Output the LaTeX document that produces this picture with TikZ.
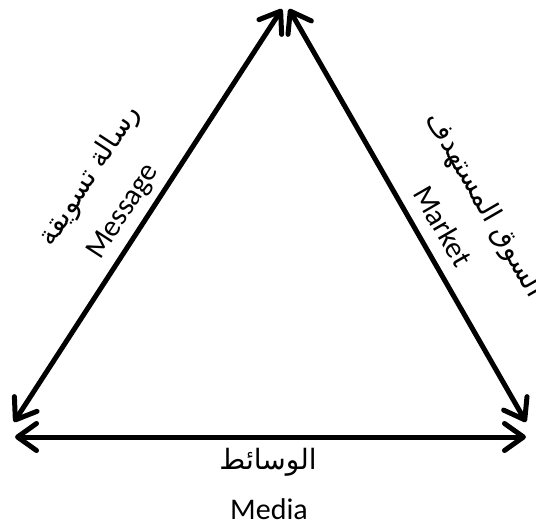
\documentclass[tikz,border=0pt]{standalone}
\usepackage{fontspec}
\setmainfont{Carlito}
\newfontfamily\arabicfont[Script=Arabic]{DejaVu Sans}
\TeXXeTstate=1
\usetikzlibrary{arrows.meta}
\tikzset{
  tip/.tip={Straight Barb[length=19pt,width=27pt,line cap=round,line join=round]},
  edge/.style={line width=5pt, line cap=round, tip-tip},
  lbl/.style={inner sep=0pt, font=\fontsize{30}{34}\selectfont},
  albl/.style={inner sep=0pt, font=\arabicfont\fontsize{28}{32}\selectfont},
}
\begin{document}
\begin{tikzpicture}[x=1pt,y=-1pt]
\useasboundingbox (0,0) rectangle (536,527);
\coordinate (tl) at (282,9);
\coordinate (tr) at (289,9);
\coordinate (bl) at (14,422);
\coordinate (br) at (526,422);
\coordinate (hl) at (15,437);
\coordinate (hr) at (526,437);
\draw[edge] (bl) -- (tl);
\draw[edge] (tr) -- (br);
\draw[edge] (hl) -- (hr);
\node[lbl, rotate=57] (msg) at (124,212) {Message};
\node[albl, rotate=57] (msgar) at (90,176) {\beginR رسالة تسويقة\endR};
\node[lbl, rotate=-60] (mkt) at (443,226) {Market};
\node[albl, rotate=-60] (mktar) at (484,205) {\beginR السوق المستهدف\endR};
\node[albl] (medar) at (268,462) {\beginR الوسائط\endR};
\node[lbl] (med) at (269,509) {Media};
\end{tikzpicture}
\end{document}
